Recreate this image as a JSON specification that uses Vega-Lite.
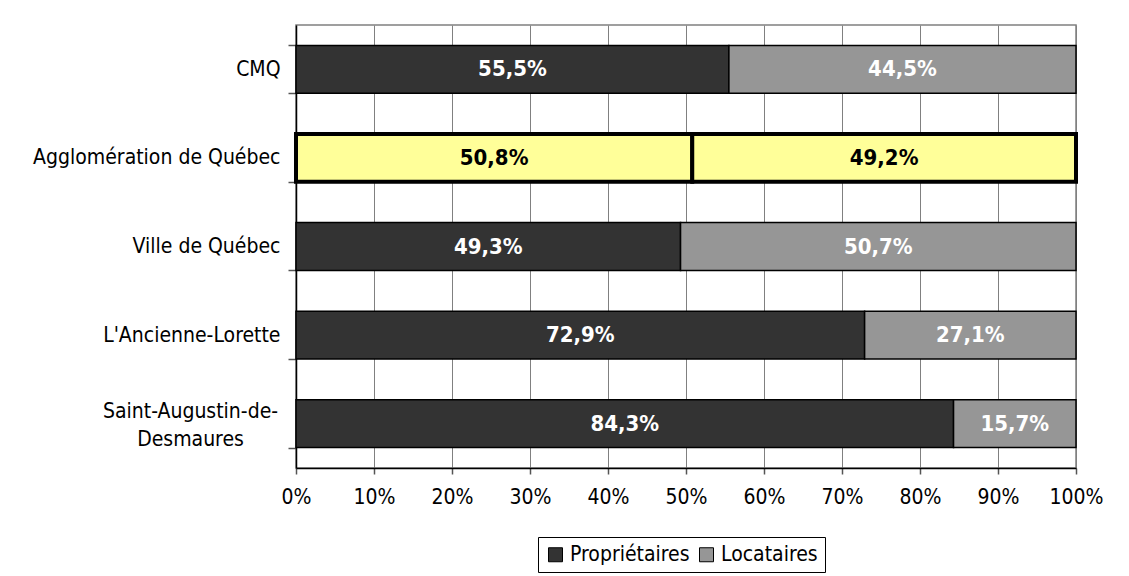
{
  "$schema": "https://vega.github.io/schema/vega-lite/v6.json",
  "width": 780,
  "height": 443,
  "autosize": {"type": "none"},
  "padding": {"left": 296, "top": 25, "right": 53, "bottom": 108},
  "background": "white",
  "config": {
    "font": "DejaVu Sans Condensed",
    "view": {"stroke": "#808080", "strokeWidth": 1.5}
  },
  "data": {
    "values": [
      {"region": "CMQ", "type": "Propriétaires", "order": 0, "value": 55.5, "label": "55,5%"},
      {"region": "CMQ", "type": "Locataires", "order": 1, "value": 44.5, "label": "44,5%"},
      {"region": "Agglomération de Québec", "type": "Propriétaires", "order": 0, "value": 50.8, "label": "50,8%"},
      {"region": "Agglomération de Québec", "type": "Locataires", "order": 1, "value": 49.2, "label": "49,2%"},
      {"region": "Ville de Québec", "type": "Propriétaires", "order": 0, "value": 49.3, "label": "49,3%"},
      {"region": "Ville de Québec", "type": "Locataires", "order": 1, "value": 50.7, "label": "50,7%"},
      {"region": "L'Ancienne-Lorette", "type": "Propriétaires", "order": 0, "value": 72.9, "label": "72,9%"},
      {"region": "L'Ancienne-Lorette", "type": "Locataires", "order": 1, "value": 27.1, "label": "27,1%"},
      {"region": "Saint-Augustin-de-Desmaures", "type": "Propriétaires", "order": 0, "value": 84.3, "label": "84,3%"},
      {"region": "Saint-Augustin-de-Desmaures", "type": "Locataires", "order": 1, "value": 15.7, "label": "15,7%"}
    ]
  },
  "transform": [
    {"stack": "value", "groupby": ["region"], "sort": [{"field": "order", "order": "ascending"}], "as": ["v0", "v1"]},
    {"calculate": "(datum.v0 + datum.v1) / 2", "as": "mid"}
  ],
  "encoding": {
    "y": {
      "field": "region",
      "type": "nominal",
      "title": null,
      "sort": ["CMQ", "Agglomération de Québec", "Ville de Québec", "L'Ancienne-Lorette", "Saint-Augustin-de-Desmaures"],
      "scale": {"paddingInner": 0.46, "paddingOuter": 0.23},
      "axis": {
        "tickBand": "extent",
        "grid": false,
        "domainColor": "black",
        "domainWidth": 1.5,
        "tickColor": "#555555",
        "tickSize": 8,
        "tickWidth": 1.5,
        "labelFont": "DejaVu Sans Condensed",
        "labelFontSize": 21,
        "labelColor": "black",
        "labelLimit": 500,
        "labelLineHeight": 28,
        "labelExpr": "datum.value === 'Saint-Augustin-de-Desmaures' ? ['Saint-Augustin-de-', 'Desmaures'] : datum.value",
        "labelAlign": {"condition": {"test": "datum.value === 'Saint-Augustin-de-Desmaures'", "value": "center"}, "value": "right"},
        "labelPadding": {"condition": {"test": "datum.value === 'Saint-Augustin-de-Desmaures'", "value": 98}, "value": 8},
        "labelOffset": {"condition": {"test": "datum.value === 'Saint-Augustin-de-Desmaures'", "value": -12}, "value": 0}
      }
    }
  },
  "layer": [
    {
      "mark": {"type": "bar", "stroke": "black"},
      "encoding": {
        "x": {
          "field": "v0",
          "type": "quantitative",
          "title": null,
          "scale": {"domain": [0, 100], "nice": false},
          "axis": {
            "values": [0, 10, 20, 30, 40, 50, 60, 70, 80, 90, 100],
            "labelExpr": "datum.value + '%'",
            "grid": true,
            "gridColor": "#808080",
            "gridWidth": 1,
            "domainColor": "black",
            "domainWidth": 1.5,
            "tickColor": "#555555",
            "tickSize": 6,
            "tickWidth": 1.5,
            "labelFont": "DejaVu Sans Condensed",
            "labelFontSize": 21,
            "labelColor": "black",
            "labelPadding": 12,
            "labelFlush": false
          }
        },
        "x2": {"field": "v1"},
        "color": {
          "condition": {"test": "datum.region === 'Agglomération de Québec'", "value": "#FFFF99"},
          "field": "type",
          "type": "nominal",
          "scale": {"domain": ["Propriétaires", "Locataires"], "range": ["#333333", "#969696"]},
          "legend": {
            "orient": "none",
            "legendX": 242,
            "legendY": 512,
            "direction": "horizontal",
            "title": null,
            "strokeColor": "black",
            "padding": 7,
            "symbolType": "square",
            "symbolSize": 196,
            "symbolStrokeColor": "black",
            "symbolStrokeWidth": 1,
            "symbolOpacity": 1,
            "labelFont": "DejaVu Sans Condensed",
            "labelFontSize": 21,
            "labelColor": "black",
            "columnPadding": 6,
            "labelOffset": 4
          }
        },
        "strokeWidth": {
          "condition": {"test": "datum.region === 'Agglomération de Québec'", "value": 4},
          "value": 1.5
        }
      }
    },
    {
      "mark": {"type": "text", "font": "DejaVu Sans Condensed", "fontWeight": "bold", "fontSize": 22},
      "encoding": {
        "x": {"field": "mid", "type": "quantitative"},
        "text": {"field": "label"},
        "color": {
          "condition": {"test": "datum.region === 'Agglomération de Québec'", "value": "black"},
          "value": "white"
        }
      }
    }
  ]
}
